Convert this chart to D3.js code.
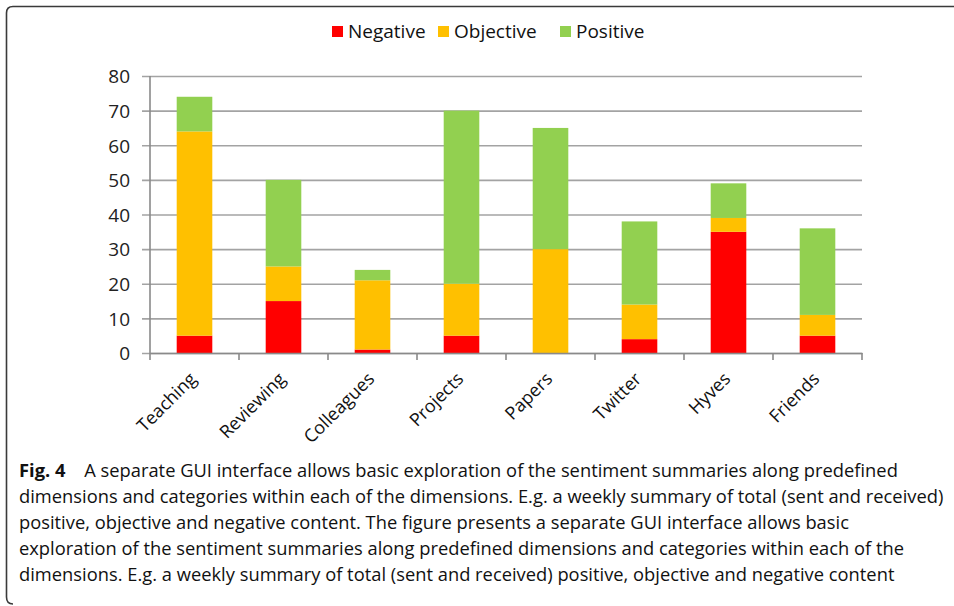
<!DOCTYPE html>
<html>
<head>
<meta charset="utf-8">
<script src="https://cdn.jsdelivr.net/npm/d3@7"></script>
<style>
  body { margin: 0; background: #fff; }
  svg { display: block; }
</style>
</head>
<body>
<div id="viz"></div>
<script>
// categories and stacked series
var categories = ["Teaching", "Reviewing", "Colleagues", "Projects", "Papers", "Twitter", "Hyves", "Friends"];
var negative  = [5, 15, 1, 5, 0, 4, 35, 5];
var objective = [59, 10, 20, 15, 30, 10, 4, 6];
var positive  = [10, 25, 3, 50, 35, 24, 10, 25];
var seriesKeys = ["Negative", "Objective", "Positive"];
var seriesColors = ["#FF0000", "#FFC000", "#92D050"];
var yTicks = [0, 10, 20, 30, 40, 50, 60, 70, 80];

var captionLabel = "Fig. 4";
var captionLines = [
  "A separate GUI interface allows basic exploration of the sentiment summaries along predefined",
  "dimensions and categories within each of the dimensions. E.g. a weekly summary of total (sent and received)",
  "positive, objective and negative content. The figure presents a separate GUI interface allows basic",
  "exploration of the sentiment summaries along predefined dimensions and categories within each of the",
  "dimensions. E.g. a weekly summary of total (sent and received) positive, objective and negative content"
];

var w = 954, h = 606;
var plot = {left: 150, right: 862, top: 76, bottom: 353};

var svg = d3.select("#viz").append("svg")
  .attr("width", w)
  .attr("height", h);

// outer frame (open on the right side)
svg.append("path")
  .attr("d", "M954,6.5 H13 Q6.5,6.5 6.5,13 V597 Q6.5,604 13,604")
  .attr("fill", "none")
  .attr("stroke", "#3a3a3a")
  .attr("stroke-width", 1.6);

var data = categories.map(function(c, i) {
  return {cat: c, Negative: negative[i], Objective: objective[i], Positive: positive[i]};
});

var stack = d3.stack().keys(seriesKeys);
var series = stack(data);

var x = d3.scaleBand().domain(categories).range([plot.left, plot.right]).paddingInner(0.6).paddingOuter(0.3);
var xTick = d3.scaleBand().domain(categories).range([plot.left, plot.right]);
var y = d3.scaleLinear().domain([0, 80]).range([plot.bottom, plot.top]);
var color = d3.scaleOrdinal().domain(seriesKeys).range(seriesColors);

// gridlines + y axis
var yAxis = d3.axisLeft(y).tickValues(yTicks).tickSize(-(plot.right - plot.left) - 8).tickPadding(12).tickSizeOuter(0);
var gy = svg.append("g")
  .attr("transform", "translate(" + (plot.left - 8) + ",0)")
  .call(yAxis);
gy.select(".domain").remove();
gy.selectAll(".tick line").attr("stroke", "#a3a3a3").attr("stroke-width", 1.6)
  .attr("x1", 0);
gy.selectAll(".tick text")
  .attr("font-family", "Open Sans, sans-serif")
  .attr("font-size", 19)
  .attr("fill", "#222")
  .attr("dy", "0.36em");

// bars
svg.append("g").selectAll("g")
  .data(series)
  .enter().append("g")
  .attr("fill", function(d) { return color(d.key); })
  .selectAll("rect")
  .data(function(d) { return d; })
  .enter().append("rect")
  .attr("x", function(d) { return x(d.data.cat); })
  .attr("width", x.bandwidth())
  .attr("y", function(d) { return y(d[1]); })
  .attr("height", function(d) { return y(d[0]) - y(d[1]); });

// y axis line
svg.append("line")
  .attr("x1", plot.left).attr("x2", plot.left)
  .attr("y1", plot.top).attr("y2", plot.bottom)
  .attr("stroke", "#8a8a8a").attr("stroke-width", 1.6);

// x axis
var xAxis = d3.axisBottom(xTick).tickSize(0).tickFormat("");
var gx = svg.append("g")
  .attr("transform", "translate(0," + plot.bottom + ")")
  .call(xAxis);
gx.select(".domain").attr("stroke", "#8a8a8a").attr("stroke-width", 1.6);
gx.selectAll(".tick").remove();

// x ticks at category boundaries
var bounds = categories.map(function(c) { return xTick(c); }).concat([plot.right]);
svg.append("g").selectAll("line")
  .data(bounds)
  .enter().append("line")
  .attr("x1", function(d) { return d; })
  .attr("x2", function(d) { return d; })
  .attr("y1", plot.bottom)
  .attr("y2", plot.bottom + 7)
  .attr("stroke", "#8a8a8a")
  .attr("stroke-width", 1.6);

// category labels, rotated
svg.append("g").selectAll("text")
  .data(categories)
  .enter().append("text")
  .attr("transform", function(d) {
    var cx = xTick(d) + xTick.bandwidth() / 2 + 3;
    return "translate(" + cx + "," + (plot.bottom + 27) + ") rotate(-45)";
  })
  .attr("text-anchor", "end")
  .attr("font-family", "Open Sans, sans-serif")
  .attr("font-size", 18)
  .attr("fill", "#111")
  .text(function(d) { return d; });

// legend
var legendItems = [
  {key: "Negative", x: 332},
  {key: "Objective", x: 438},
  {key: "Positive", x: 560}
];
var lg = svg.append("g");
lg.selectAll("rect")
  .data(legendItems)
  .enter().append("rect")
  .attr("x", function(d) { return d.x; })
  .attr("y", 26)
  .attr("width", 11)
  .attr("height", 11)
  .attr("fill", function(d) { return color(d.key); });
lg.selectAll("text")
  .data(legendItems)
  .enter().append("text")
  .attr("x", function(d) { return d.x + 16; })
  .attr("y", 38)
  .attr("font-family", "Open Sans, sans-serif")
  .attr("font-size", 19)
  .attr("fill", "#111")
  .text(function(d) { return d.key; });

// caption: natural widths, squeezed a little so the longest line ends at the right margin
var capX = 19;
var capBase = [477, 503, 529, 555, 581];
var cap = svg.append("g")
  .attr("font-family", "Open Sans, sans-serif")
  .attr("font-size", 18)
  .attr("fill", "#111");

cap.append("text")
  .attr("x", capX)
  .attr("y", capBase[0])
  .attr("font-weight", "bold")
  .text(captionLabel);

cap.append("text")
  .attr("x", capX + 64)
  .attr("y", capBase[0])
  .text(captionLines[0]);

var rows = cap.selectAll("text.line")
  .data(captionLines.slice(1))
  .enter().append("text")
  .attr("class", "line")
  .attr("x", capX)
  .attr("y", function(d, i) { return capBase[i + 1]; })
  .text(function(d) { return d; });

var natural = rows.nodes()[0].getComputedTextLength();
var sx = (944 - capX) / natural;
cap.attr("transform", "translate(" + capX + ",0) scale(" + sx + ",1) translate(" + (-capX) + ",0)");
</script>
</body>
</html>
